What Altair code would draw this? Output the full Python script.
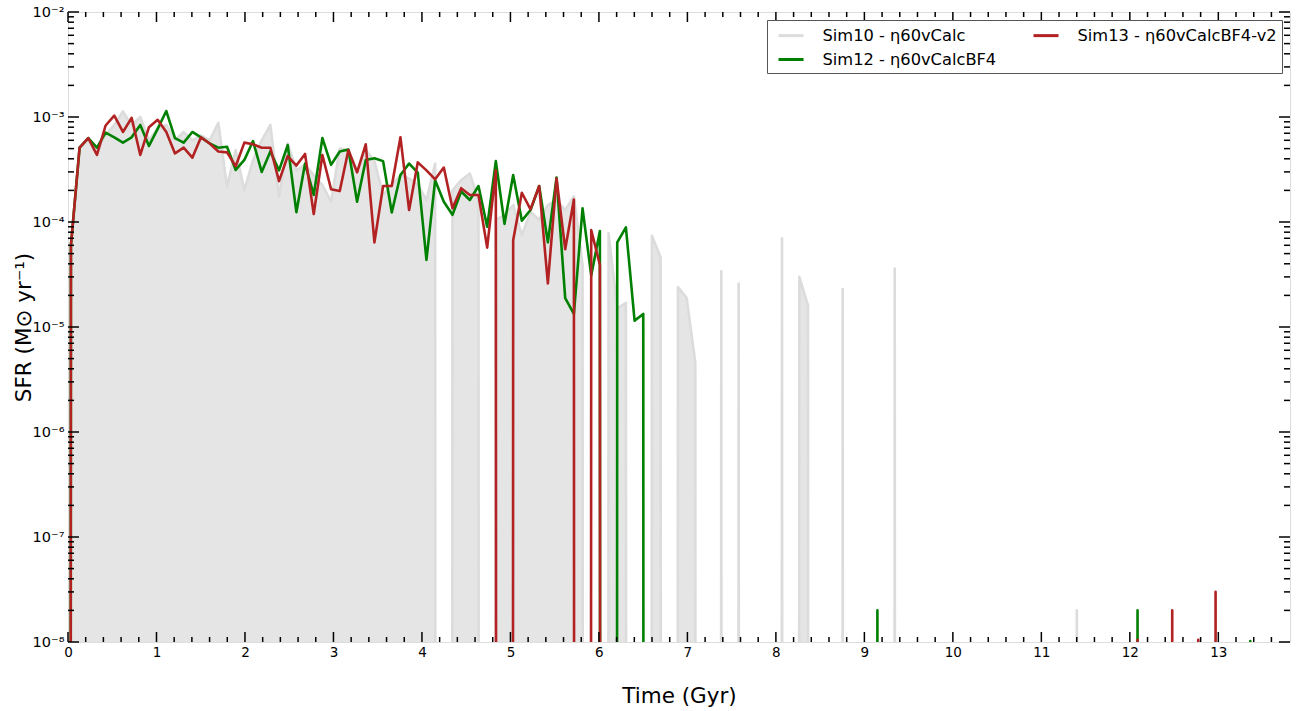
import altair as alt
import pandas as pd

# ---- time grid (Gyr) ----
T0 = 0.033
DT = 0.098
N = 141
FLOOR = 1e-200  # zero SFR, clipped off the bottom of the log axis like matplotlib

# ---- Sim10 (grey, filled) : values for bins k = 0..72, then isolated bursts ----
sim10_main = [6e-5, 5.1e-4, 6.3e-4, 4.85e-4, 6.7e-4, 8.4e-4, 1.13e-3, 8.4e-4, 1.0e-3, 6.0e-4,
              7.8e-4, 8.4e-4, 6.0e-4, 7.2e-4, 6.0e-4, 6.7e-4, 6.0e-4, 8.8e-4, 2.17e-4, 4.85e-4,
              2.0e-4, 3.9e-4, 6.0e-4, 8.4e-4, 1.74e-4, 5.6e-4, 3.1e-4, 3.5e-4, 2.8e-4, 2.25e-4,
              1.56e-4, 5.0e-4, 4.85e-4, 3.1e-4, 4.85e-4, 3.8e-4, 1.81e-4, 2.25e-4, 2.8e-4, 2.6e-4,
              2.25e-4, 1.62e-4, 3.6e-4, 0, 2.0e-4, 2.5e-4, 2.9e-4, 1.62e-4, 0, 1.05e-4,
              1.17e-4, 1.45e-4, 7.5e-5, 1.25e-4, 1.05e-4, 1.45e-4, 1.62e-4, 1.3e-4, 1.75e-4, 3.9e-5,
              0, 0, 7.8e-5, 1.5e-5, 1.7e-5, 0, 0, 7.4e-5, 4.6e-5, 0,
              2.4e-5, 1.9e-5, 4.6e-6]
sim10_bursts = {75: 3.4e-5, 77: 2.6e-5, 82: 7.0e-5, 84: 3.0e-5, 85: 1.6e-5,
                89: 2.3e-5, 95: 3.6e-5, 116: 2.0e-8}

# ---- Sim12 (green) ----
sim12_main = [6e-5, 5.1e-4, 6.3e-4, 5.1e-4, 7.1e-4, 6.4e-4, 5.7e-4, 6.4e-4, 8.4e-4, 5.3e-4,
              7.7e-4, 1.14e-3, 6.3e-4, 5.7e-4, 7.2e-4, 6.4e-4, 5.6e-4, 5.1e-4, 5.2e-4, 3.13e-4,
              3.9e-4, 5.9e-4, 3.0e-4, 4.7e-4, 3.1e-4, 5.4e-4, 1.24e-4, 3.6e-4, 1.81e-4, 6.3e-4,
              3.5e-4, 4.7e-4, 4.9e-4, 1.56e-4, 3.9e-4, 4.05e-4, 3.8e-4, 1.23e-4, 2.8e-4, 3.6e-4,
              2.95e-4, 4.35e-5, 2.5e-4, 1.56e-4, 1.17e-4, 1.95e-4, 1.62e-4, 2.2e-4, 9.0e-5, 3.8e-4,
              9.6e-5, 2.8e-4, 1.03e-4, 1.3e-4, 2.2e-4, 6.4e-5, 2.65e-4, 1.88e-5, 1.33e-5, 1.35e-4,
              3.1e-5, 8.2e-5, 0, 6.4e-5, 8.9e-5, 1.15e-5, 1.33e-5]
sim12_bursts = {93: 2e-8, 123: 2e-8, 136: 1.02e-8}

# ---- Sim13 (red) ----
sim13_main = [6e-5, 5.1e-4, 6.3e-4, 4.35e-4, 8.3e-4, 1.03e-3, 7.2e-4, 9.8e-4, 4.35e-4, 8.0e-4,
              9.4e-4, 7.2e-4, 4.5e-4, 5.1e-4, 4.1e-4, 6.4e-4, 5.6e-4, 4.7e-4, 4.6e-4, 3.4e-4,
              5.7e-4, 5.5e-4, 5.1e-4, 5.1e-4, 2.45e-4, 4.25e-4, 3.45e-4, 4.45e-4, 1.19e-4, 4.35e-4,
              2.05e-4, 1.97e-4, 4.85e-4, 2.97e-4, 5.5e-4, 6.4e-5, 2.2e-4, 2.2e-4, 6.4e-4, 1.3e-4,
              3.7e-4, 3.1e-4, 2.55e-4, 3.3e-4, 1.35e-4, 2.1e-4, 1.81e-4, 1.81e-4, 5.7e-5, 3.1e-4,
              0, 6.7e-5, 1.9e-4, 1.32e-4, 2.2e-4, 2.6e-5, 2.6e-4, 5.5e-5, 1.64e-4, 0,
              8.4e-5, 3.9e-5]
sim13_bursts = {123: 1.05e-8, 127: 2e-8, 130: 1.05e-8, 132: 3e-8}

names = ["Sim10 - η60vCalc", "Sim12 - η60vCalcBF4", "Sim13 - η60vCalcBF4-v2"]
colors = ["#dcdcdc", "#008000", "#b22222"]

x_major = list(range(14))
x_minor = [round(i * 0.2, 1) for i in range(1, 69) if i % 5 != 0]
y_major = [1e-8, 1e-7, 1e-6, 1e-5, 1e-4, 1e-3, 1e-2]
y_minor = [m * d for d in [1e-8, 1e-7, 1e-6, 1e-5, 1e-4, 1e-3] for m in range(2, 10)]


def build(main, bursts, name):
    vals = [0.0] * N
    for i, v in enumerate(main):
        vals[i] = v
    for k, v in bursts.items():
        vals[k] = v
    ts = [round(T0 + DT * k, 4) for k in range(-1, N)]
    vs = [0.0] + vals
    return pd.DataFrame({
        "t": ts,
        "sfr": [v if v > 0 else FLOOR for v in vs],
        "base": FLOOR,
        "series": name,
    })


d10 = build(sim10_main, sim10_bursts, names[0])
d12 = build(sim12_main, sim12_bursts, names[1])
d13 = build(sim13_main, sim13_bursts, names[2])

W, H = 1222, 630
FONT = "DejaVu Sans"

xs = alt.Scale(domain=[0, 13.81], nice=False, zero=False)
ys = alt.Scale(type="log", domain=[1e-8, 1e-2], nice=False)
cs = alt.Scale(domain=names, range=colors)

x_axis = alt.Axis(values=x_major, ticks=False, domain=False, grid=False,
                  labelFontSize=13.5, labelPadding=3, labelFlush=False, labelFont=FONT,
                  labelColor="black", title="Time (Gyr)", titleFont=FONT, titleFontSize=21.5,
                  titleFontWeight="normal", titleColor="black", titlePadding=27)
y_axis = alt.Axis(values=y_major, ticks=False, domain=False, grid=False,
                  labelFontSize=14.5, labelPadding=4, labelFlush=False, labelFont=FONT,
                  labelColor="black",
                  labelExpr="datum.value < 5e-8 ? '10⁻⁸' : datum.value < 5e-7 ? '10⁻⁷' : datum.value < 5e-6 ? '10⁻⁶' : datum.value < 5e-5 ? '10⁻⁵' : datum.value < 5e-4 ? '10⁻⁴' : datum.value < 5e-3 ? '10⁻³' : '10⁻²'",
                  title="SFR (M⊙ yr⁻¹)", titleFont=FONT, titleFontSize=21.5,
                  titleFontWeight="normal", titleColor="black", titlePadding=-3)

area = alt.Chart(d10).mark_area(color="#e5e5e5", clip=True, opacity=1).encode(
    x=alt.X("t:Q", scale=xs, axis=x_axis),
    y=alt.Y("sfr:Q", scale=ys, axis=y_axis),
    y2=alt.Y2("base:Q"),
)

legend = alt.Legend(title=None, orient="none", legendX=699, legendY=8, columns=2,
                    symbolType="M-1.39,0L1.39,0", symbolSize=324, symbolStrokeWidth=3,
                    labelFontSize=16.25, labelFont=FONT, labelColor="black", labelLimit=400,
                    padding=5, symbolOffset=8.5, strokeColor="#555555", fillColor="white",
                    cornerRadius=0, columnPadding=30, rowPadding=5, labelOffset=21)


def line(df, leg):
    return alt.Chart(df).mark_line(clip=True, strokeWidth=2.6, strokeJoin="round").encode(
        x=alt.X("t:Q", scale=xs, axis=x_axis),
        y=alt.Y("sfr:Q", scale=ys, axis=y_axis),
        color=alt.Color("series:N", scale=cs, legend=leg),
    )


l10 = line(d10, legend)
l12 = line(d12, legend)
l13 = line(d13, legend)

xmaj = pd.DataFrame({"x": x_major})
xmin = pd.DataFrame({"x": x_minor})
ymaj = pd.DataFrame({"y": y_major})
ymin = pd.DataFrame({"y": y_minor})

TICK = dict(color="black", strokeWidth=1.5)


def xticks(df, y1, y2):
    return alt.Chart(df).mark_rule(**TICK).encode(
        x=alt.X("x:Q", scale=xs, axis=x_axis), y=alt.value(y1), y2=alt.value(y2))


def yticks(df, x1, x2):
    return alt.Chart(df).mark_rule(**TICK).encode(
        y=alt.Y("y:Q", scale=ys, axis=y_axis), x=alt.value(x1), x2=alt.value(x2))


ticks = [
    xticks(xmaj, H, H - 10), xticks(xmin, H, H - 5),
    xticks(xmaj, 0, 10), xticks(xmin, 0, 5),
    yticks(ymaj, 0, 11), yticks(ymin, 0, 6),
    yticks(ymaj, W, W - 11), yticks(ymin, W, W - 6),
]

chart = alt.layer(area, l10, l12, l13, *ticks).properties(
    width=W, height=H,
    autosize=alt.AutoSizeParams(type="none"),
    padding={"left": 68, "top": 12, "right": 17, "bottom": 69},
).configure_view(stroke="black", strokeWidth=1.5).configure(font=FONT, background="white")

chart.save("out.html", embed_options={"renderer": "svg", "actions": False})
